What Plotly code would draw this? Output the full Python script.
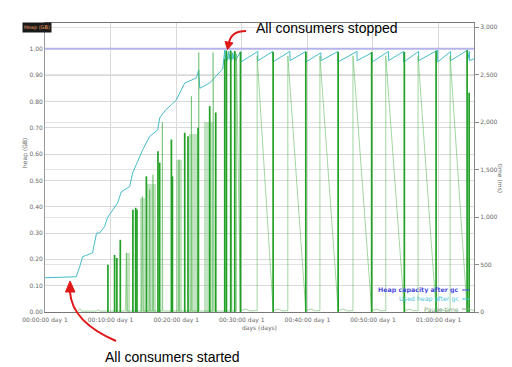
import plotly.graph_objects as go

# ---------------- data ----------------
x_tick_vals = [0, 10, 20, 30, 40, 50, 60]
x_tick_text = ["00:00:00 day 1", "00:10:00 day 1", "00:20:00 day 1", "00:30:00 day 1",
               "00:40:00 day 1", "00:50:00 day 1", "01:00:00 day 1"]
heap_tick_vals = [0.0, 0.1, 0.2, 0.3, 0.4, 0.5, 0.6, 0.7, 0.8, 0.9, 1.0]
time_tick_vals = [0, 500, 1000, 1500, 2000, 2500, 3000]

# minutes since start
capacity_t = [0, 65.4]
capacity_gb = [1.0, 1.0]

used_t = [0, 4.76, 5.27, 5.73, 6.79, 7.25, 7.86, 8.32, 9.08, 9.54, 10.35, 11.07, 11.63, 12.90,
          13.36, 14.89, 15.95, 17.18, 17.48, 18.4, 19.27, 20.03, 21.30, 23.08, 23.44, 23.6,
          25.11, 26.64, 27.1, 27.4,
          27.45, 27.65, 27.7, 28.0, 28.05, 28.3, 28.35, 28.6, 28.65, 28.95, 29.0,
          29.85, 29.87, 32.44, 32.46, 34.73, 34.75, 37.33, 37.35, 39.77, 39.79, 42.06, 42.08,
          44.66, 44.68, 47.56, 47.58, 49.85, 49.87, 52.37, 52.39, 54.66, 54.68, 56.95, 56.97,
          59.85, 59.87, 61.83, 61.85, 64.43, 64.45, 64.7, 64.72, 65.4]
used_gb = [0.13, 0.134, 0.17, 0.21, 0.22, 0.225, 0.30, 0.30, 0.324, 0.36, 0.388, 0.414, 0.457, 0.476,
           0.528, 0.616, 0.667, 0.692, 0.737, 0.768, 0.787, 0.806, 0.87, 0.889, 0.92, 0.85,
           0.87, 0.91, 0.924, 0.995,
           0.955, 0.995, 0.95, 0.99, 0.96, 0.995, 0.955, 0.985, 0.96, 0.99, 0.955,
           0.99, 0.95, 0.99, 0.955, 0.99, 0.95, 0.99, 0.955, 0.99, 0.95, 0.985, 0.955,
           0.99, 0.95, 0.99, 0.955, 0.985, 0.95, 0.99, 0.955, 0.99, 0.95, 0.99, 0.955,
           0.995, 0.95, 0.99, 0.955, 0.995, 0.96, 0.99, 0.955, 0.962]

# long pauses (drawn as dark spikes)
major_t = [9.59, 10.61, 10.96, 11.48, 13.40, 13.82, 14.02, 15.45, 17.22, 17.48, 19.27, 19.42,
           21.30, 21.80, 23.33, 25.11, 26.03, 27.40, 27.66, 28.32, 28.93,
           29.80, 34.78, 39.76, 44.69, 49.80, 54.78, 59.62, 64.35, 64.66]
major_ms = [497, 602, 570, 761, 1078, 1099, 1080, 1430, 1694, 1575, 1818, 1430,
            1889, 1853, 1942, 2170, 2103, 2664, 2750, 2750, 2750,
            2740, 2740, 2740, 2740, 2740, 2740, 2750, 2760, 2310]

# pause time series (connected thin line)
pause_t = [5.0, 5.3, 5.6, 7.8, 8.1, 8.4, 9.5,
           12.25, 12.4, 12.55, 14.7, 14.84, 14.98, 15.9, 15.95, 16.05, 16.4, 16.46, 16.55,
           17.85, 17.89, 17.95, 20.35, 20.43, 20.5, 22.25, 22.32, 22.4, 23.4, 23.44, 23.5,
           25.55, 25.62, 25.7, 25.8, 28.27, 28.27, 28.5, 29.19, 29.19, 29.8,
           30.6, 31.2, 32.34, 32.34, 34.78, 35.6, 36.2, 37.02, 37.02, 39.76,
           40.6, 41.2, 41.91, 41.91, 44.69, 45.5, 46.1, 46.95, 46.95, 49.80,
           50.6, 51.2, 51.95, 51.95, 54.78, 55.6, 56.2, 56.87, 56.87, 59.62,
           60.4, 61.0, 61.76, 61.76, 64.35, 65.0, 65.4]
pause_ms = [5, 35, 8, 10, 22, 8, 10,
            10, 624, 10, 10, 1219, 10, 10, 1290, 10, 10, 1448, 10,
            10, 1998, 10, 10, 1607, 10, 10, 2276, 10, 10, 2735, 10,
            10, 2735, 2065, 10, 10, 2720, 10, 10, 2720, 15,
            30, 12, 15, 2700, 15, 30, 12, 15, 2700, 15,
            30, 12, 15, 2700, 15, 30, 12, 15, 2700, 15,
            30, 12, 15, 2700, 15, 30, 12, 15, 2700, 15,
            30, 12, 15, 2700, 15, 25, 12]

# dense clusters of pauses (light bands)
band_center = [12.65, 14.9, 16.2, 20.45, 22.5, 25.0]
band_width = [0.6, 0.8, 1.4, 1.0, 1.2, 1.4]
band_ms = [620, 1200, 1350, 1600, 1880, 2000]

# ---------------- figure ----------------
# the page body has an 8px margin, so the figure is shrunk by that amount
OFF = 8
W, H = 512 - OFF, 367 - OFF
ML, MR, MT, MB = 45 - OFF, 38, 23 - OFF, 55
PW, PH = W - ML - MR, H - MT - MB


def px(x, y):
    """window pixel -> paper coordinate"""
    return (x - OFF - ML) / PW, (H + OFF - MB - y) / PH


fig = go.Figure()

fig.add_trace(go.Bar(x=band_center, y=band_ms, width=band_width, yaxis="y2",
                     marker=dict(color="rgba(120,195,120,0.45)", line=dict(width=0)),
                     showlegend=False, hoverinfo="skip"))

fig.add_trace(go.Scatter(x=pause_t, y=pause_ms, yaxis="y2", mode="lines",
                         line=dict(color="rgba(70,175,70,0.5)", width=1),
                         name="Pause time", showlegend=False))

mx, my = [], []
for t, v in zip(major_t, major_ms):
    mx += [t, t, None]
    my += [0, v, None]
fig.add_trace(go.Scatter(x=mx, y=my, yaxis="y2", mode="lines",
                         line=dict(color="#22a025", width=1.7), showlegend=False,
                         hoverinfo="skip"))

fig.add_trace(go.Scatter(x=capacity_t, y=capacity_gb, mode="lines",
                         line=dict(color="#b4b4ea", width=2),
                         name="Heap capacity after gc", showlegend=False))
fig.add_trace(go.Scatter(x=used_t, y=used_gb, mode="lines",
                         line=dict(color="#45bccb", width=1),
                         name="Used heap after gc", showlegend=False))

tick_font = dict(family="DejaVu Sans", size=6, color="#666")

fig.update_layout(
    width=W, height=H,
    margin=dict(l=ML, r=MR, t=MT, b=MB, autoexpand=False),
    paper_bgcolor="white", plot_bgcolor="white",
    bargap=0,
    xaxis=dict(range=[0, 65.4], tickvals=x_tick_vals, ticktext=x_tick_text,
               tickfont=tick_font, showgrid=True, gridcolor="#d9d9d9", gridwidth=1,
               showline=True, linecolor="#777", linewidth=1, mirror=True,
               ticks="outside", ticklen=2, tickcolor="rgba(0,0,0,0)",
               zeroline=False, automargin=False),
    yaxis=dict(range=[0, 1.098], tickvals=heap_tick_vals, tickformat=".2f",
               tickfont=tick_font, showgrid=True, gridcolor="#d9d9d9",
               showline=True, linecolor="#999", linewidth=1, ticks="",
               zeroline=False, automargin=False),
    yaxis2=dict(range=[0, 3046], tickvals=time_tick_vals, tickformat=",",
                tickfont=tick_font, overlaying="y", side="right", showgrid=True,
                gridcolor="#e3e3e3", showline=True, linecolor="#888", linewidth=1,
                ticks="outside", ticklen=4, tickcolor="#888", zeroline=False,
                automargin=False),
)

ann = []


def label(x, y, text, size, color, family="DejaVu Sans", angle=0, xanchor="center", **kw):
    px_x, _ = px(x, 0)
    _, px_y = px(0, y)
    d = dict(x=px_x, y=px_y, xref="paper", yref="paper", text=text, showarrow=False,
             xanchor=xanchor, yanchor="middle", textangle=angle,
             font=dict(family=family, size=size, color=color))
    d.update(kw)
    ann.append(d)


# axis titles
label(25, 153, "heap (GB)", 6, "#666", angle=-90)
label(259.5, 328, "days (days)", 6, "#666")
label(501, 178, "time (ms)", 6, "#666", angle=90)
# label box
label(36.5, 27.5, "Heap (GB)", 5, "#f0a060", bgcolor="#1a1a1a", borderpad=1)

# legend
leg = [("<b>Heap capacity after gc</b>", "#4a4ae0", 290),
       ("Used heap after gc", "#45c4d4", 299),
       ("Pause time", "#80a880", 309)]
shapes = []
for txt, col, yy in leg:
    label(461, yy, txt, 6.3, col, xanchor="right")
    x0, y0 = px(462, yy)
    x1, _ = px(470, yy)
    shapes.append(dict(type="line", xref="paper", yref="paper", x0=x0, x1=x1, y0=y0, y1=y0,
                       line=dict(color=col, width=1)))

# callouts
label(326.5, 28, "All consumers stopped", 14, "black", family="Liberation Sans")
label(172.5, 357, "All consumers started", 14, "black", family="Liberation Sans")


def path(points, cmd):
    s = ""
    for c, pts in zip(cmd, points):
        s += c + " " + " ".join("%.4f %.4f" % px(*p) for p in pts) + " "
    return s.strip()


red = "#e01818"
shapes.append(dict(type="path", xref="paper", yref="paper",
                   path=path([[(246, 31)], [(231, 31), (229, 43)]], ["M", "Q"]),
                   line=dict(color=red, width=2)))
shapes.append(dict(type="path", xref="paper", yref="paper",
                   path=path([[(225, 41.5)], [(227.5, 49.5)], [(233, 43)]], ["M", "L", "L"]) + " Z",
                   fillcolor=red, line=dict(color=red, width=1)))
shapes.append(dict(type="path", xref="paper", yref="paper",
                   path=path([[(116, 341)], [(72, 322), (70, 292)]], ["M", "Q"]),
                   line=dict(color=red, width=2)))
shapes.append(dict(type="path", xref="paper", yref="paper",
                   path=path([[(65.5, 292)], [(70, 281)], [(75, 292)]], ["M", "L", "L"]) + " Z",
                   fillcolor=red, line=dict(color=red, width=1)))

fig.update_layout(annotations=ann, shapes=shapes)
fig.write_html("out.html")
